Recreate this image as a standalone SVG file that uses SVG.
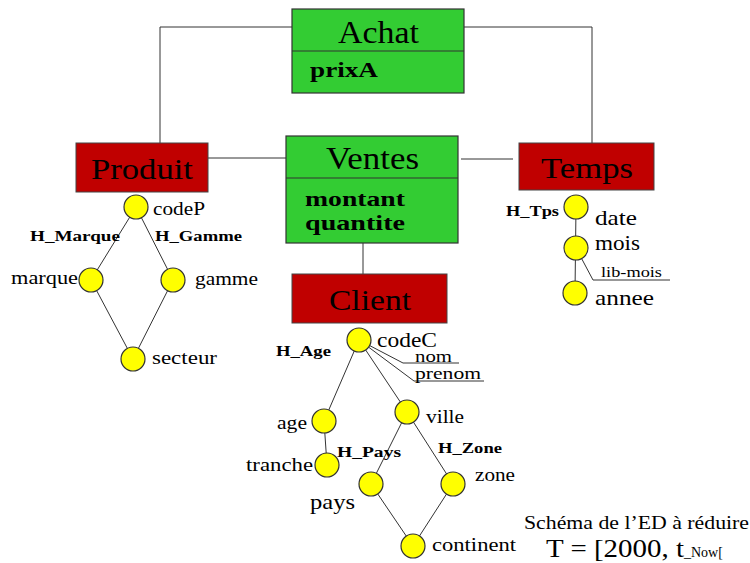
<svg xmlns="http://www.w3.org/2000/svg" width="750" height="563" viewBox="0 0 750 563">
<style>
.b{font-weight:bold}
.fact{fill:#33cc33;stroke:#333;stroke-width:1.2}
.dim{fill:#c00000;stroke:#444;stroke-width:1}
.c{fill:#ffff00;stroke:#333;stroke-width:1.2}
.l{stroke:#333;stroke-width:1;fill:none}
</style>
<rect width="750" height="563" fill="#fff"/>
<g id="connectors">
<polyline class="l" points="292,27 160,27 160,143"/>
<polyline class="l" points="464,27 592,27 592,143"/>
<line class="l" x1="208" y1="158" x2="286" y2="158"/>
<line class="l" x1="461" y1="159" x2="513" y2="159"/>
<line class="l" x1="363" y1="243" x2="363" y2="274"/>
<line class="l" x1="136" y1="207" x2="91" y2="280"/>
<line class="l" x1="136" y1="207" x2="173" y2="280"/>
<line class="l" x1="91" y1="280" x2="133" y2="359"/>
<line class="l" x1="173" y1="280" x2="133" y2="359"/>
<line class="l" x1="359" y1="340" x2="324" y2="421"/>
<line class="l" x1="359" y1="340" x2="407" y2="412"/>
<polyline class="l" points="359,340 403,363 459,363"/>
<polyline class="l" points="359,340 414,381 484,381"/>
<line class="l" x1="324" y1="421" x2="327" y2="465"/>
<line class="l" x1="407" y1="412" x2="371" y2="484"/>
<line class="l" x1="407" y1="412" x2="453" y2="484"/>
<line class="l" x1="371" y1="484" x2="413" y2="546"/>
<line class="l" x1="453" y1="484" x2="413" y2="546"/>
<line class="l" x1="576" y1="207" x2="575" y2="293"/>
<polyline class="l" points="576,248 593,280 670,280"/>
</g>
<g font-family="'Liberation Serif', 'DejaVu Serif', 'Times New Roman', serif" fill="#000">
<g id="Achat">
<rect class="fact" x="292" y="9" width="172" height="84"/>
<line class="l" x1="292" y1="51" x2="464" y2="51"/>
<text x="338" y="43" font-size="31" textLength="81" lengthAdjust="spacingAndGlyphs">Achat</text>
<text class="b" x="310" y="77" font-size="21" textLength="68" lengthAdjust="spacingAndGlyphs">prixA</text>
</g>
<g id="Ventes">
<rect class="fact" x="286" y="136" width="172" height="107"/>
<line class="l" x1="286" y1="178" x2="458" y2="178"/>
<text x="326" y="169" font-size="31" textLength="93" lengthAdjust="spacingAndGlyphs">Ventes</text>
<text class="b" x="305" y="206" font-size="22" textLength="100" lengthAdjust="spacingAndGlyphs">montant</text>
<text class="b" x="305" y="230" font-size="22" textLength="100" lengthAdjust="spacingAndGlyphs">quantite</text>
</g>
<g id="Produit">
<rect class="dim" x="76" y="143" width="132" height="49"/>
<text x="91" y="179" font-size="30" textLength="102" lengthAdjust="spacingAndGlyphs">Produit</text>
</g>
<g id="Temps">
<rect class="dim" x="519" y="143" width="135" height="47"/>
<text x="541" y="178" font-size="30" textLength="92" lengthAdjust="spacingAndGlyphs">Temps</text>
</g>
<g id="Client">
<rect class="dim" x="292" y="274" width="155" height="49"/>
<text x="329" y="310" font-size="30" textLength="82" lengthAdjust="spacingAndGlyphs">Client</text>
</g>
<g id="codeP"><circle class="c" cx="136" cy="207" r="12"/><text x="153" y="215" font-size="18" textLength="52" lengthAdjust="spacingAndGlyphs">codeP</text></g>
<g id="marque"><circle class="c" cx="91" cy="280" r="12"/><text x="11" y="284" font-size="18" textLength="67" lengthAdjust="spacingAndGlyphs">marque</text></g>
<g id="gamme"><circle class="c" cx="173" cy="280" r="12"/><text x="195" y="285" font-size="18" textLength="63" lengthAdjust="spacingAndGlyphs">gamme</text></g>
<g id="secteur"><circle class="c" cx="133" cy="359" r="12"/><text x="152" y="364" font-size="18" textLength="65" lengthAdjust="spacingAndGlyphs">secteur</text></g>
<text class="b" x="30" y="241" font-size="15" textLength="90" lengthAdjust="spacingAndGlyphs">H_Marque</text>
<text class="b" x="155" y="241" font-size="15" textLength="87" lengthAdjust="spacingAndGlyphs">H_Gamme</text>
<g id="codeC"><circle class="c" cx="359" cy="340" r="12"/><text x="377" y="347" font-size="20" textLength="60" lengthAdjust="spacingAndGlyphs">codeC</text></g>
<text class="b" x="276" y="356" font-size="15" textLength="55" lengthAdjust="spacingAndGlyphs">H_Age</text>
<g id="nom"><text x="415" y="362" font-size="16" textLength="37" lengthAdjust="spacingAndGlyphs">nom</text></g>
<g id="prenom"><text x="415" y="379" font-size="17" textLength="66" lengthAdjust="spacingAndGlyphs">prenom</text></g>
<g id="age"><circle class="c" cx="324" cy="421" r="12"/><text x="277" y="429" font-size="18" textLength="30" lengthAdjust="spacingAndGlyphs">age</text></g>
<g id="tranche"><circle class="c" cx="327" cy="465" r="12"/><text x="246" y="471" font-size="18" textLength="67" lengthAdjust="spacingAndGlyphs">tranche</text></g>
<g id="ville"><circle class="c" cx="407" cy="412" r="12"/><text x="426" y="423" font-size="18" textLength="38" lengthAdjust="spacingAndGlyphs">ville</text></g>
<text class="b" x="337" y="457" font-size="15" textLength="64" lengthAdjust="spacingAndGlyphs">H_Pays</text>
<text class="b" x="438" y="453" font-size="15" textLength="64" lengthAdjust="spacingAndGlyphs">H_Zone</text>
<g id="pays"><circle class="c" cx="371" cy="484" r="12"/><text x="310" y="509" font-size="21" textLength="45" lengthAdjust="spacingAndGlyphs">pays</text></g>
<g id="zone"><circle class="c" cx="453" cy="484" r="12"/><text x="475" y="481" font-size="18" textLength="40" lengthAdjust="spacingAndGlyphs">zone</text></g>
<g id="continent"><circle class="c" cx="413" cy="546" r="12"/><text x="432" y="551" font-size="18" textLength="84" lengthAdjust="spacingAndGlyphs">continent</text></g>
<text class="b" x="506" y="216" font-size="15" textLength="53" lengthAdjust="spacingAndGlyphs">H_Tps</text>
<g id="date"><circle class="c" cx="576" cy="207" r="12"/><text x="595" y="225" font-size="21" textLength="42" lengthAdjust="spacingAndGlyphs">date</text></g>
<g id="mois"><circle class="c" cx="576" cy="248" r="12"/><text x="595" y="250" font-size="21" textLength="45" lengthAdjust="spacingAndGlyphs">mois</text></g>
<g id="lib-mois"><text x="601" y="277" font-size="15" textLength="61" lengthAdjust="spacingAndGlyphs">lib-mois</text></g>
<g id="annee"><circle class="c" cx="575" cy="293" r="12"/><text x="595" y="305" font-size="21" textLength="59" lengthAdjust="spacingAndGlyphs">annee</text></g>
<text x="524" y="529" font-size="18" textLength="225" lengthAdjust="spacingAndGlyphs">Schéma de l’ED à réduire</text>
<text x="546" y="557" font-size="25"><tspan textLength="138" lengthAdjust="spacingAndGlyphs">T = [2000, t</tspan><tspan font-size="14">_Now[</tspan></text>
</g>
</svg>
